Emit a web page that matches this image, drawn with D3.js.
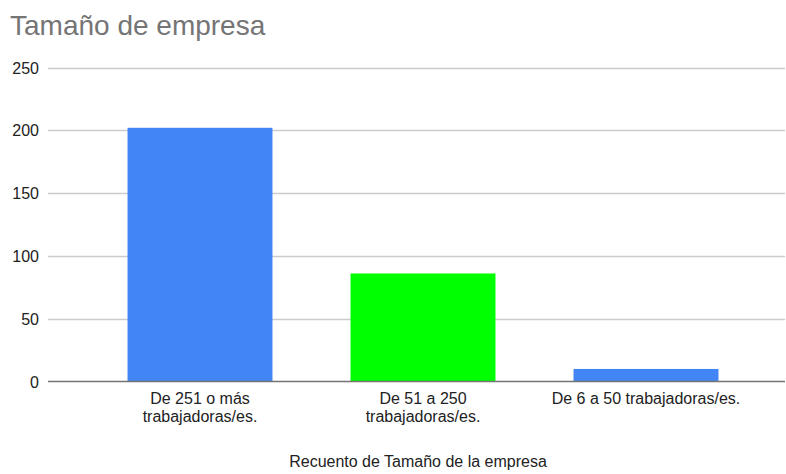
<!DOCTYPE html>
<html>
<head>
<meta charset="utf-8">
<script src="https://cdn.jsdelivr.net/npm/d3@7"></script>
<style>
  body { margin: 0; background: #fff; }
  svg { display: block; font-family: "Liberation Sans", Arial, sans-serif; }
</style>
</head>
<body>
<div id="chart"></div>
<script>
const categories = [
  ["De 251 o más", "trabajadoras/es."],
  ["De 51 a 250", "trabajadoras/es."],
  ["De 6 a 50 trabajadoras/es."]
];
const counts = [202, 86, 10];
const barColours = ["#4285f4", "#00ff00", "#4285f4"];
const yTicks = [0, 50, 100, 150, 200, 250];
const chartTitle = "Tamaño de empresa";
const xTitle = "Recuento de Tamaño de la empresa";

const width = 786, height = 474;
const gridLeft = 48, gridRight = 785;

const svg = d3.select("#chart").append("svg")
  .attr("width", width)
  .attr("height", height);

let x = d3.scaleBand()
  .domain(d3.range(categories.length))
  .range([88.5, 757.5])
  .paddingInner(0.35)
  .paddingOuter(0.175);

let y = d3.scaleLinear()
  .domain([0, 250])
  .range([381.5, 67.5]);

// title
svg.append("text")
  .attr("x", 10)
  .attr("y", 35)
  .attr("font-size", "28px")
  .attr("fill", "#757575")
  .text(chartTitle);

// gridlines + y labels
let yAxis = svg.append("g").attr("class", "y-axis");
yAxis.selectAll("line")
  .data(yTicks.filter(d => d > 0))
  .enter().append("line")
  .attr("x1", gridLeft).attr("x2", gridRight)
  .attr("y1", d => Math.round(y(d)) + 0.5)
  .attr("y2", d => Math.round(y(d)) + 0.5)
  .attr("stroke", "#cccccc")
  .attr("stroke-width", 1.3);

yAxis.selectAll("text")
  .data(yTicks)
  .enter().append("text")
  .attr("x", 39)
  .attr("y", d => y(d) + 6)
  .attr("text-anchor", "end")
  .attr("font-size", "16px")
  .attr("fill", "#222")
  .text(d => d);

// bars
svg.append("g").selectAll("rect")
  .data(counts)
  .enter().append("rect")
  .attr("x", (d, i) => x(i))
  .attr("y", d => y(d))
  .attr("width", x.bandwidth())
  .attr("height", d => y(0) - y(d))
  .attr("fill", (d, i) => barColours[i]);

// baseline
svg.append("line")
  .attr("x1", gridLeft).attr("x2", gridRight)
  .attr("y1", y(0)).attr("y2", y(0))
  .attr("stroke", "#757575")
  .attr("stroke-width", 1.5);

// x labels
let xLabels = svg.append("g").selectAll("text")
  .data(categories)
  .enter().append("text")
  .attr("text-anchor", "middle")
  .attr("font-size", "16px")
  .attr("fill", "#222")
  .attr("transform", (d, i) => `translate(${x(i) + x.bandwidth() / 2},0)`);

xLabels.selectAll("tspan")
  .data(d => d)
  .enter().append("tspan")
  .attr("x", 0)
  .attr("y", (d, i) => 404 + i * 18)
  .text(d => d);

// x title
svg.append("text")
  .attr("x", 418)
  .attr("y", 467)
  .attr("text-anchor", "middle")
  .attr("font-size", "16px")
  .attr("fill", "#222")
  .text(xTitle);
</script>
</body>
</html>
